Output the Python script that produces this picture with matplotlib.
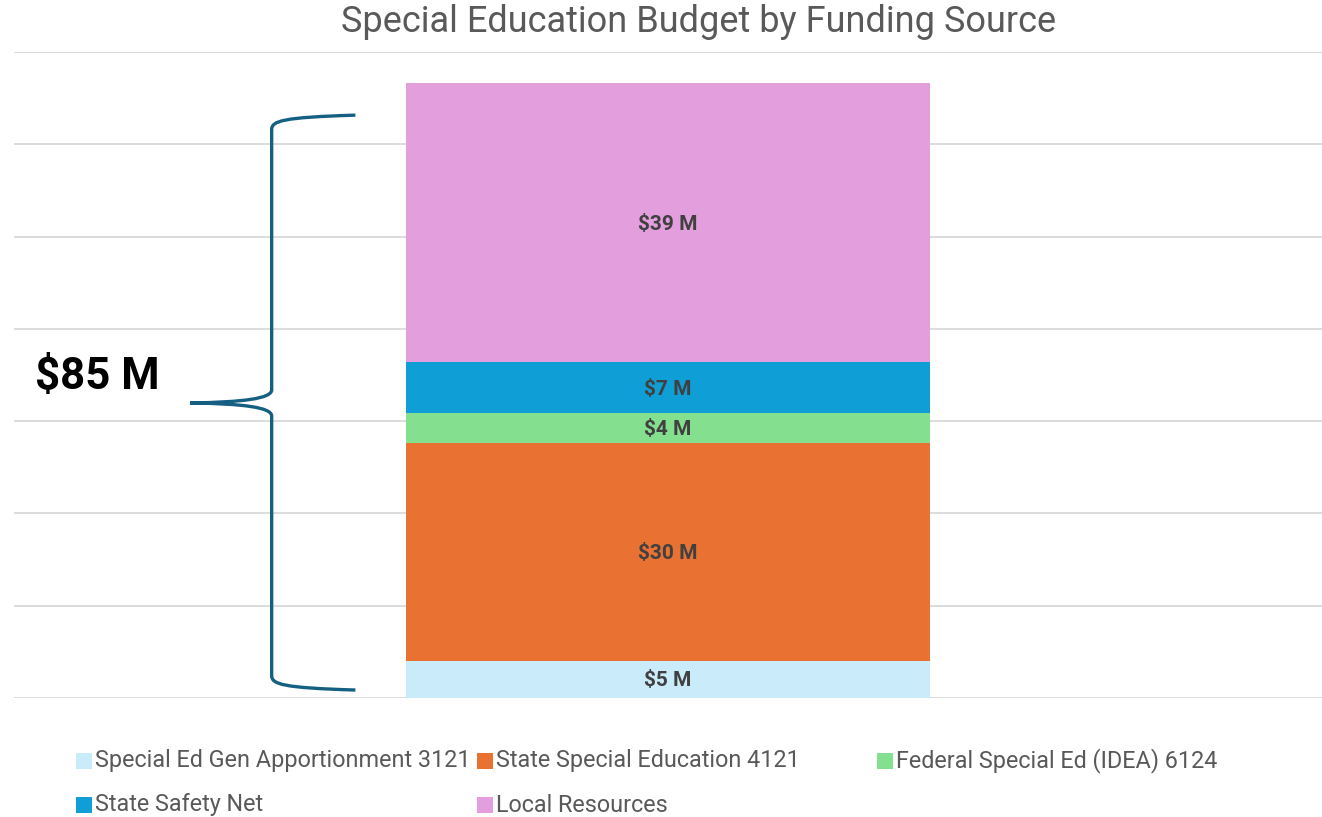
import matplotlib
matplotlib.use("Agg")
import matplotlib.pyplot as plt
from matplotlib.path import Path
from matplotlib.patches import PathPatch, Rectangle
import matplotlib.transforms as mtransforms
import numpy as np

# data (millions of dollars)
sources = ["Special Ed Gen Apportionment 3121", "State Special Education 4121",
           "Federal Special Ed (IDEA) 6124", "State Safety Net", "Local Resources"]
amounts = [5.1, 30.1, 4.1, 7.0, 38.5]
labels = ["$5 M", "$30 M", "$4 M", "$7 M", "$39 M"]
colors = ["#CAECFA", "#E97132", "#84E08E", "#0F9ED5", "#E39EDD"]
total_label = "$85 M"

plt.rcParams['font.family'] = ['Roboto', 'DejaVu Sans']

fig = plt.figure(figsize=(13.22, 8.17), dpi=100)
W, H = 1322, 817
ax = fig.add_axes([14 / W, 1 - 698 / H, 1308 / W, 646 / H])

bottom = 0
for amt, lab, col in zip(amounts, labels, colors):
    ax.bar(0.5, amt, width=0.401, bottom=bottom, color=col, zorder=3)
    ax.text(0.5, bottom + amt / 2 - 0.2, lab, ha="center", va="center",
            fontsize=15, fontweight="bold", color="#404040", zorder=4)
    bottom += amt

step = 12.73
ax.set_ylim(0, 7 * step)
ax.set_xlim(0, 1)
ax.set_yticks(np.arange(0, 7 * step + 0.1, step))
ax.grid(axis="y", color="#D9D9D9", linewidth=1.3, zorder=0)
ax.tick_params(left=False, bottom=False, labelleft=False, labelbottom=False)
for s in ax.spines.values():
    s.set_visible(False)

# curly brace
trans = mtransforms.blended_transform_factory(ax.transAxes, ax.transData)
xv, xe, xt = 0.197, 0.261, 0.1346
ytop, ybot, ytip = 80.4, 1.1, 40.7
verts = [(xe, ytop), (0.205, ytop - 0.3), (xv, ytop - 0.8), (xv, ytop - 2.0),
         (xv, ytip + 1.8),
         (xv, ytip + 0.6), (0.175, ytip + 0.1), (xt, ytip),
         (0.175, ytip - 0.1), (xv, ytip - 0.6), (xv, ytip - 1.8),
         (xv, ybot + 2.0),
         (xv, ybot + 0.8), (0.205, ybot + 0.3), (xe, ybot)]
codes = [Path.MOVETO, Path.CURVE4, Path.CURVE4, Path.CURVE4,
         Path.LINETO,
         Path.CURVE4, Path.CURVE4, Path.CURVE4,
         Path.CURVE4, Path.CURVE4, Path.CURVE4,
         Path.LINETO,
         Path.CURVE4, Path.CURVE4, Path.CURVE4]
ax.add_patch(PathPatch(Path(verts, codes), facecolor="none", edgecolor="#156082",
                       linewidth=2.4, transform=trans, clip_on=False, zorder=5))
fig.text(35 / W, 1 - 377 / H, total_label, ha="left", va="center",
         fontsize=31.5, fontweight="bold", color="black")

fig.text(699 / W, 1 - 22 / H, "Special Education Budget by Funding Source",
         ha="center", va="center", fontsize=26, color="#595959")

# legend
pos = [(76, 761), (477, 761), (877, 761), (76, 805), (477, 805)]
for (px, py), name, col in zip(pos, sources, colors):
    fig.patches.append(Rectangle((px / W, 1 - (py + 8) / H), 16 / W, 16 / H,
                                 transform=fig.transFigure, facecolor=col,
                                 edgecolor="none"))
    fig.text((px + 19) / W, 1 - py / H, name, ha="left", va="center",
             fontsize=16.8, color="#595959")

fig.savefig("out.png", dpi=100)
